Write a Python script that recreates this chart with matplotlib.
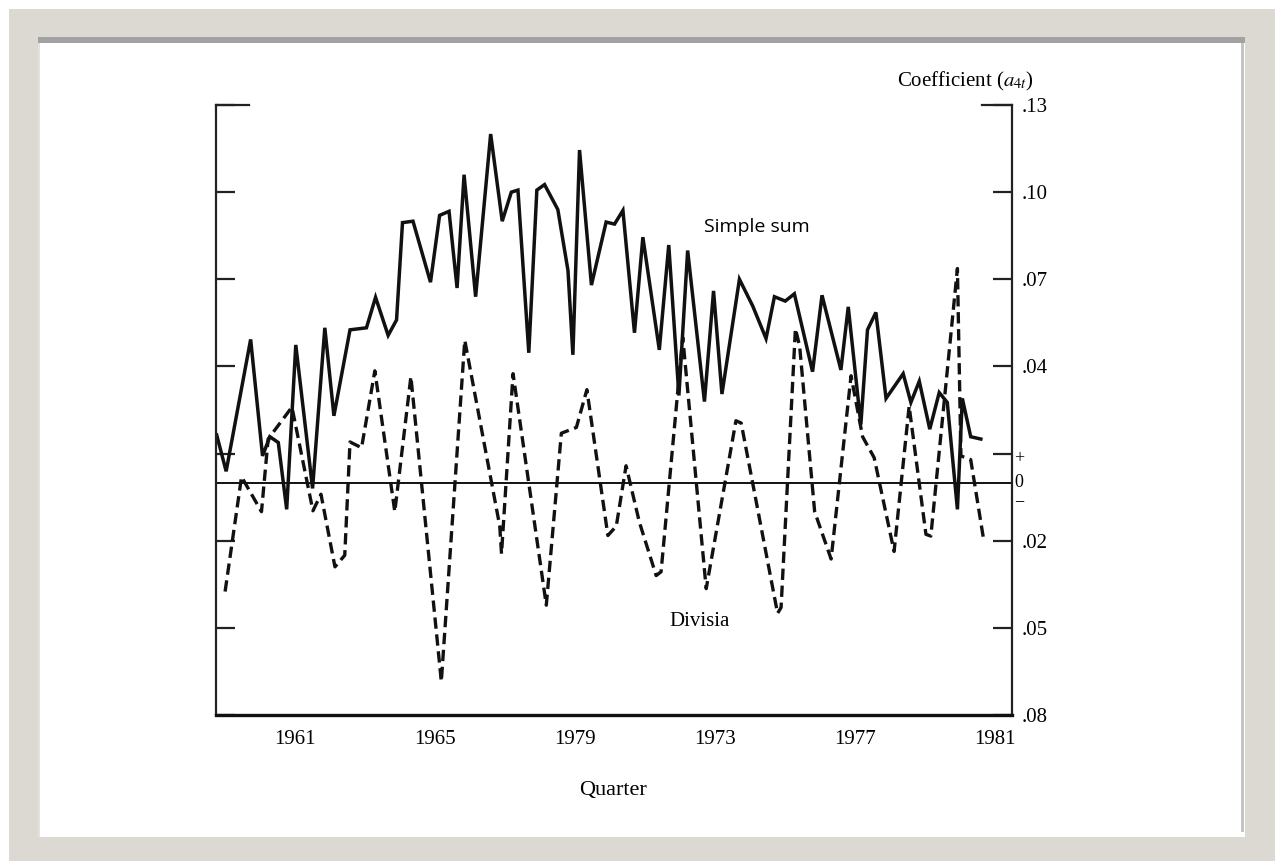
"""
Coefficient a4t over time: simple sum vs Divisia aggregates (scanned chart redraw)
"""

import matplotlib
matplotlib.use('Agg')
import matplotlib.pyplot as plt
from matplotlib.patches import Rectangle

plt.rcParams['font.family'] = ['Liberation Serif', 'DejaVu Serif']
plt.rcParams['mathtext.fontset'] = 'stix'

# -------------------------------------------------------------------
# datos (anio decimal, coeficiente)
# -------------------------------------------------------------------

simple_t = [1958.77, 1959.04, 1959.74, 1960.08, 1960.29, 1960.53, 1960.77, 1961.03,
            1961.51, 1961.86, 1962.12, 1962.58, 1963.05, 1963.31, 1963.67, 1963.91,
            1964.08, 1964.38, 1964.88, 1965.14, 1965.41, 1965.64, 1965.84, 1966.17,
            1966.60, 1966.93, 1967.19, 1967.38, 1967.69, 1967.92, 1968.14, 1968.52,
            1968.81, 1968.95, 1969.14, 1969.48, 1969.90, 1970.14, 1970.38, 1970.71,
            1970.95, 1971.42, 1971.69, 1971.98, 1972.23, 1972.71, 1972.97, 1973.21,
            1973.71, 1974.09, 1974.47, 1974.71, 1975.02, 1975.28, 1975.80, 1976.07,
            1976.61, 1976.82, 1977.18, 1977.37, 1977.61, 1977.90, 1978.39, 1978.61,
            1978.85, 1979.15, 1979.42, 1979.65, 1979.94, 1980.08, 1980.32, 1980.61]
simple_v = [.0164, .0039, .0493, .0092, .0158, .0138, -.0092, .0474,
            -.0020, .0533, .0230, .0526, .0533, .0638, .0507, .0560,
            .0895, .0900, .0690, .0920, .0934, .0670, .1060, .0640,
            .1200, .0900, .1000, .1007, .0447, .1007, .1026, .0940,
            .0730, .0440, .1145, .0680, .0897, .0890, .0937, .0516,
            .0845, .0457, .0818, .0300, .0799, .0279, .0660, .0305,
            .0700, .0608, .0496, .0640, .0625, .0650, .0382, .0645,
            .0388, .0605, .0200, .0526, .0586, .0290, .0375, .0276,
            .0349, .0184, .0310, .0276, -.0092, .0290, .0158, .0150]

divisia_t = [1959.01, 1959.48, 1960.05, 1960.24, 1960.92, 1961.52, 1961.75, 1962.15,
             1962.43, 1962.58, 1962.91, 1963.29, 1963.86, 1964.32, 1965.19, 1965.86,
             1966.86, 1966.91, 1967.24, 1968.19, 1968.62, 1969.05, 1969.35, 1969.95,
             1970.19, 1970.47, 1970.85, 1971.33, 1971.47, 1972.09, 1972.76, 1973.61,
             1973.76, 1974.80, 1974.90, 1975.31, 1975.43, 1975.86, 1976.33, 1976.90,
             1977.23, 1977.56, 1978.13, 1978.56, 1979.04, 1979.18, 1979.94, 1980.04,
             1980.32, 1980.70]
divisia_v = [-.0375, .0020, -.0100, .0150, .0260, -.0097, -.0040, -.0290,
             -.0250, .0140, .0120, .0385, -.0100, .0365, -.0685, .0490,
             -.0150, -.0245, .0375, -.0422, .0170, .0190, .0320, -.0182,
             -.0150, .0058, -.0136, -.0320, -.0307, .0500, -.0365, .0213,
             .0205, -.0450, -.0430, .0530, .0470, -.0100, -.0263, .0368,
             .0158, .0086, -.0237, .0263, -.0178, -.0184, .0737, .0092,
             .0079, -.0204]

year_ticks = [1961, 1965, 1969, 1973, 1977, 1981]
year_labels = ['1961', '1965', '1979', '1973', '1977', '1981']

y_ticks = [0.13, 0.10, 0.07, 0.04, 0.01, -0.02, -0.05, -0.08]
y_labels = ['.13', '.10', '.07', '.04', '', '.02', '.05', '.08']

W, H = 1279, 861

fig = plt.figure(figsize=(W / 100, H / 100), dpi=100)
fig.patch.set_facecolor('white')

# marco gris tipo "foto" alrededor del grafico
def px_rect(x0, y0, x1, y1, color, z):
    fig.patches.append(Rectangle((x0 / W, 1 - y1 / H), (x1 - x0) / W, (y1 - y0) / H,
                                 transform=fig.transFigure, facecolor=color,
                                 edgecolor='none', zorder=z))

px_rect(9, 9, 1275, 861, '#dbd9d1', -10)
px_rect(38, 38, 1245, 837, 'white', -9)
px_rect(38, 37, 1245, 43, '#a2a2a2', -8)
px_rect(1241, 43, 1244, 832, '#c4c4c4', -8)
px_rect(38, 43, 40, 837, '#e2e2e2', -8)

ax = fig.add_axes([216 / W, 1 - 715 / H, (1012 - 216) / W, (715 - 105) / H])
ax.set_facecolor('none')

ax.plot(simple_t, simple_v, color='#111111', linewidth=2.5, solid_joinstyle='miter')
ax.plot(divisia_t, divisia_v, color='#111111', linewidth=2.4, linestyle=(0, (3.4, 1.7)))
ax.axhline(0, color='#111111', linewidth=1.4)

ax.set_xlim(1958.75, 1981.5)
ax.set_ylim(-0.08, 0.13)

ax.set_xticks(year_ticks)
ax.set_xticklabels(year_labels, fontsize=15)
ax.tick_params(axis='x', length=0, pad=11)

ax.set_yticks(y_ticks)
ax.set_yticklabels(y_labels, fontsize=15)
ax.tick_params(axis='y', direction='in', length=14, width=1.6, color='#222222',
               left=True, right=True, labelleft=False, labelright=True, pad=7)

ax.spines['top'].set_visible(False)
for s in ['left', 'right']:
    ax.spines[s].set_linewidth(1.6)
    ax.spines[s].set_color('#222222')
ax.spines['bottom'].set_linewidth(2.4)
ax.spines['bottom'].set_color('#111111')

# topes superiores mas largos en ambos ejes
ax.plot([0, 0.041], [1, 1], transform=ax.transAxes, color='#222222', lw=1.6, clip_on=False)
ax.plot([0.962, 1], [1, 1], transform=ax.transAxes, color='#222222', lw=1.6, clip_on=False)

# signos alrededor del cero en el eje derecho
ytr = ax.get_yaxis_transform()
ax.text(1.009, 0.0082, '+', transform=ytr, ha='center', va='center', fontsize=13)
ax.text(1.009, 0.0002, '0', transform=ytr, ha='center', va='center', fontsize=13)
ax.text(1.009, -0.0066, '\u2212', transform=ytr, ha='center', va='center', fontsize=13)

ax.text(0.680, 0.800, 'Simple sum', transform=ax.transAxes, ha='center', va='center',
        fontsize=14, family=['Open Sans', 'DejaVu Sans'])
ax.text(0.608, 0.154, 'Divisia', transform=ax.transAxes, ha='center', va='center',
        fontsize=15)

fig.text(1034 / W, 1 - 81 / H, r'Coefficient ($a_{4t}$)', ha='right', va='center',
         fontsize=15)
fig.text(613 / W, 1 - 790 / H, 'Quarter', ha='center', va='center', fontsize=16)

fig.savefig('out.png', dpi=100)
